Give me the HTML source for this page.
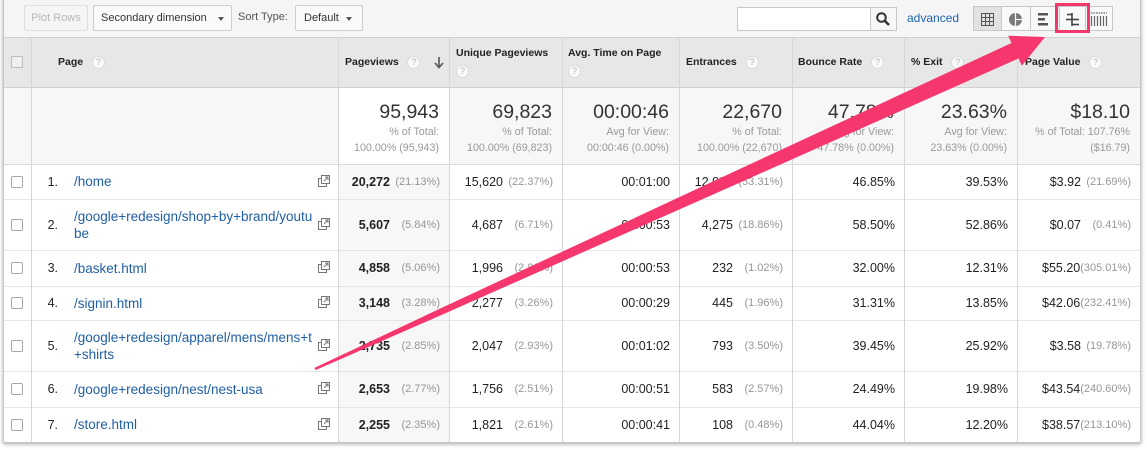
<!DOCTYPE html>
<html><head><meta charset="utf-8">
<style>
*{margin:0;padding:0;box-sizing:border-box}
body{width:1147px;height:450px;overflow:hidden;background:#fff;position:relative;font-family:"Liberation Sans",Arial,sans-serif;color:#222}
.abs{position:absolute}
.frame{position:absolute;left:3px;top:-3px;width:1138px;height:446px;border:1px solid #c4c4c4;background:#f5f5f5;box-shadow:0 1px 4px rgba(0,0,0,.35)}
.btn{position:absolute;top:5px;height:26px;border:1px solid #cfcfcf;border-radius:2px;background:#fafafa;font-size:11px;color:#333;display:flex;align-items:center}
.tri{position:absolute;width:0;height:0;border-left:3.5px solid transparent;border-right:3.5px solid transparent;border-top:4px solid #555}
.hl{position:absolute;background:#d6d6d6}
.row{position:absolute;left:0;width:1147px}
.c{position:absolute;top:0;height:100%;display:flex;align-items:center;justify-content:flex-end;padding-right:9px;font-size:12.5px;color:#222;white-space:nowrap}
.p{display:inline-block;min-width:50px;text-align:right;font-size:11px;color:#969696}
.pv{left:338px;width:111px;background:#f7f7f7}
.pv b{font-weight:bold}
.up{left:449px;width:113px}
.at{left:562px;width:117px}
.en{left:679px;width:113px}
.br{left:792px;width:112px}
.ex{left:904px;width:113px}
.va{left:1017px;width:123px}
.cb{position:absolute;left:11px;top:50%;margin-top:-6px;width:12px;height:12px;border:1px solid #a8a8a8;border-radius:2px;background:#fff}
.num{position:absolute;left:31px;width:27px;top:0;height:100%;display:flex;align-items:center;justify-content:flex-end;font-size:12.5px;color:#222}
.lnk{position:absolute;left:74px;top:0;height:100%;display:flex;align-items:center;font-size:13.5px;color:#1f5fa6;line-height:17px;white-space:nowrap}
.ext{position:absolute;left:318px;top:50%;margin-top:-7px}
.hd{position:absolute;top:37px;height:50px;display:flex;align-items:center;padding-left:7px;font-size:10.5px;font-weight:bold;color:#222;line-height:18px}
.hd > div{white-space:nowrap}
.q{display:inline-block;width:13px;height:13px;border-radius:50%;background:#f9f9f9;border:1px solid #dcdcdc;color:#b5b5b5;font-size:9px;font-weight:normal;text-align:center;line-height:11px;vertical-align:middle}
.tot{position:absolute;top:87px;height:77px;padding-top:13px;padding-right:10px;text-align:right;background:#f7f7f7}
.tot .big{font-size:19.5px;line-height:24px;color:#333}
.tot .sm{font-size:10.7px;line-height:16px;color:#999;white-space:nowrap}
</style></head><body>

<div class="frame"></div>

<!-- toolbar -->
<div class="btn" style="left:24px;width:64px;background:#f5f5f5;border-color:#dedede;color:#b8b8b8;justify-content:center">Plot Rows</div>
<div class="btn" style="left:93px;width:139px;padding-left:7px">Secondary dimension<div class="tri" style="left:124px;top:11px"></div></div>
<div class="abs" style="left:238px;top:11px;font-size:11px;color:#555">Sort Type:</div>
<div class="btn" style="left:295px;width:68px;padding-left:8px">Default<div class="tri" style="left:50px;top:11px"></div></div>

<div class="abs" style="left:737px;top:7px;width:134px;height:24px;border:1px solid #c8c8c8;background:#fff"></div>
<div class="abs" style="left:870px;top:7px;width:27px;height:24px;border:1px solid #c8c8c8;background:#f7f7f7"></div>
<svg class="abs" style="left:875px;top:11px" width="16" height="16"><circle cx="6.5" cy="6.5" r="4.3" fill="none" stroke="#333" stroke-width="2"/><line x1="9.5" y1="9.5" x2="14" y2="14" stroke="#333" stroke-width="2.6"/></svg>
<div class="abs" style="left:907px;top:11px;font-size:12px;color:#1c62b2">advanced</div>

<div class="abs" style="left:973px;top:6px;width:140px;height:25px;border:1px solid #c8c8c8;background:#f9f9f9"></div>
<div class="abs" style="left:974px;top:7px;width:27px;height:23px;background:#e2e2e2"></div>
<div class="abs" style="left:1001px;top:6px;width:1px;height:25px;background:#c8c8c8"></div>
<div class="abs" style="left:1030px;top:6px;width:1px;height:25px;background:#c8c8c8"></div>
<div class="abs" style="left:1059px;top:6px;width:1px;height:25px;background:#c8c8c8"></div>
<div class="abs" style="left:1085px;top:6px;width:1px;height:25px;background:#c8c8c8"></div>
<svg class="abs" style="left:0;top:0" width="1147" height="40">
 <g stroke="#555" stroke-width="1" fill="none">
  <rect x="981.5" y="13.5" width="12" height="12"/>
  <line x1="985.5" y1="13.5" x2="985.5" y2="25.5"/><line x1="989.5" y1="13.5" x2="989.5" y2="25.5"/>
  <line x1="981.5" y1="17.5" x2="993.5" y2="17.5"/><line x1="981.5" y1="21.5" x2="993.5" y2="21.5"/>
 </g>
 <circle cx="1015.5" cy="19.5" r="6.5" fill="#7a7a7a"/>
 <line x1="1015.5" y1="13" x2="1015.5" y2="26" stroke="#f9f9f9" stroke-width="1.2"/>
 <line x1="1015.5" y1="19.5" x2="1022" y2="19.5" stroke="#f9f9f9" stroke-width="1.2"/>
 <rect x="1038" y="13" width="10" height="2.5" fill="#555"/>
 <rect x="1038" y="18" width="7" height="2.5" fill="#555"/>
 <rect x="1038" y="23" width="10" height="2.5" fill="#555"/>
 <g stroke="#444" stroke-width="1.6">
  <line x1="1072" y1="13" x2="1072" y2="26"/>
  <line x1="1067" y1="14.5" x2="1072" y2="14.5"/>
  <line x1="1066" y1="19.5" x2="1079" y2="19.5"/>
  <line x1="1072" y1="24.5" x2="1079" y2="24.5"/>
 </g>
 <g stroke="#666" stroke-width="1.2">
  <line x1="1091" y1="13" x2="1107" y2="13" stroke-dasharray="1.5 1"/>
  <line x1="1091.5" y1="16" x2="1091.5" y2="26"/><line x1="1094.5" y1="16" x2="1094.5" y2="26"/>
  <line x1="1097.5" y1="16" x2="1097.5" y2="26"/><line x1="1100.5" y1="16" x2="1100.5" y2="26"/>
  <line x1="1103.5" y1="16" x2="1103.5" y2="26"/><line x1="1106.5" y1="16" x2="1106.5" y2="26"/>
 </g>
</svg>

<!-- header -->
<div class="abs" style="left:4px;top:37px;width:1136px;height:50px;background:#e7e7e7"></div>
<div class="abs" style="left:11px;top:56px;width:12px;height:12px;border:1px solid #bdbdbd;background:#efefef"></div>
<div class="hd" style="left:51px;width:287px"><div>Page&nbsp;&nbsp;&nbsp;<span class="q">?</span></div></div>
<div class="hd" style="left:338px;width:111px"><div>Pageviews&nbsp;&nbsp;&nbsp;<span class="q">?</span></div></div>
<svg class="abs" style="left:434px;top:56px" width="10" height="13"><line x1="5" y1="1" x2="5" y2="11" stroke="#555" stroke-width="1.6"/><polyline points="1,7 5,11.5 9,7" fill="none" stroke="#555" stroke-width="1.6"/></svg>
<div class="hd" style="left:449px;width:113px"><div>Unique Pageviews<br><span class="q">?</span></div></div>
<div class="hd" style="left:562px;width:117px;padding-left:6px"><div>Avg. Time on Page<br><span class="q">?</span></div></div>
<div class="hd" style="left:679px;width:113px"><div>Entrances&nbsp;&nbsp;&nbsp;<span class="q">?</span></div></div>
<div class="hd" style="left:792px;width:112px;padding-left:6px"><div>Bounce Rate&nbsp;&nbsp;&nbsp;<span class="q">?</span></div></div>
<div class="hd" style="left:904px;width:113px"><div>% Exit&nbsp;&nbsp;&nbsp;<span class="q">?</span></div></div>
<div class="hd" style="left:1017px;width:123px;padding-left:8px"><div>Page Value&nbsp;&nbsp;&nbsp;<span class="q">?</span></div></div>

<!-- totals -->
<div class="abs" style="left:4px;top:87px;width:334px;height:77px;background:#f7f7f7"></div>
<div class="tot" style="left:338px;width:111px;background:#fff"><div class="big">95,943</div><div class="sm">% of Total:</div><div class="sm">100.00% (95,943)</div></div>
<div class="tot" style="left:449px;width:113px"><div class="big">69,823</div><div class="sm">% of Total:</div><div class="sm">100.00% (69,823)</div></div>
<div class="tot" style="left:562px;width:117px"><div class="big">00:00:46</div><div class="sm">Avg for View:</div><div class="sm">00:00:46 (0.00%)</div></div>
<div class="tot" style="left:679px;width:113px"><div class="big">22,670</div><div class="sm">% of Total:</div><div class="sm">100.00% (22,670)</div></div>
<div class="tot" style="left:792px;width:112px"><div class="big">47.78%</div><div class="sm">Avg for View:</div><div class="sm">47.78% (0.00%)</div></div>
<div class="tot" style="left:904px;width:113px"><div class="big">23.63%</div><div class="sm">Avg for View:</div><div class="sm">23.63% (0.00%)</div></div>
<div class="tot" style="left:1017px;width:123px"><div class="big">$18.10</div><div class="sm">% of Total: 107.76%</div><div class="sm">($16.79)</div></div>

<!-- data rows background -->
<div class="abs" style="left:4px;top:164px;width:1136px;height:278px;background:#fff"></div>

<svg width="0" height="0" style="position:absolute"><defs>
<symbol id="ei" viewBox="0 0 12 12"><rect x="0.5" y="3.5" width="8" height="8" fill="#fff" stroke="#777"/><rect x="3.5" y="0.5" width="8" height="8" fill="#fff" stroke="#777"/><path d="M6 6 L10 2 M7 2 H10 V5" stroke="#777" fill="none"/></symbol>
</defs></svg>

<div class="row" style="top:164px;height:35px">
 <div class="cb"></div><div class="num">1.</div><div class="lnk">/home</div>
 <svg class="ext" width="12" height="12"><use href="#ei"/></svg>
 <div class="c pv"><b>20,272</b><span class="p">(21.13%)</span></div>
 <div class="c up">15,620<span class="p">(22.37%)</span></div>
 <div class="c at">00:01:00</div>
 <div class="c en">12,085<span class="p">(53.31%)</span></div>
 <div class="c br">46.85%</div>
 <div class="c ex">39.53%</div>
 <div class="c va">$3.92<span class="p">(21.69%)</span></div>
</div>
<div class="row" style="top:199px;height:51px">
 <div class="cb"></div><div class="num">2.</div><div class="lnk">/google+redesign/shop+by+brand/youtu<br>be</div>
 <svg class="ext" width="12" height="12"><use href="#ei"/></svg>
 <div class="c pv"><b>5,607</b><span class="p">(5.84%)</span></div>
 <div class="c up">4,687<span class="p">(6.71%)</span></div>
 <div class="c at">00:00:53</div>
 <div class="c en">4,275<span class="p">(18.86%)</span></div>
 <div class="c br">58.50%</div>
 <div class="c ex">52.86%</div>
 <div class="c va">$0.07<span class="p">(0.41%)</span></div>
</div>
<div class="row" style="top:250px;height:36px">
 <div class="cb"></div><div class="num">3.</div><div class="lnk">/basket.html</div>
 <svg class="ext" width="12" height="12"><use href="#ei"/></svg>
 <div class="c pv"><b>4,858</b><span class="p">(5.06%)</span></div>
 <div class="c up">1,996<span class="p">(2.86%)</span></div>
 <div class="c at">00:00:53</div>
 <div class="c en">232<span class="p">(1.02%)</span></div>
 <div class="c br">32.00%</div>
 <div class="c ex">12.31%</div>
 <div class="c va">$55.20<span class="p">(305.01%)</span></div>
</div>
<div class="row" style="top:286px;height:34px">
 <div class="cb"></div><div class="num">4.</div><div class="lnk">/signin.html</div>
 <svg class="ext" width="12" height="12"><use href="#ei"/></svg>
 <div class="c pv"><b>3,148</b><span class="p">(3.28%)</span></div>
 <div class="c up">2,277<span class="p">(3.26%)</span></div>
 <div class="c at">00:00:29</div>
 <div class="c en">445<span class="p">(1.96%)</span></div>
 <div class="c br">31.31%</div>
 <div class="c ex">13.85%</div>
 <div class="c va">$42.06<span class="p">(232.41%)</span></div>
</div>
<div class="row" style="top:320px;height:51px">
 <div class="cb"></div><div class="num">5.</div><div class="lnk">/google+redesign/apparel/mens/mens+t<br>+shirts</div>
 <svg class="ext" width="12" height="12"><use href="#ei"/></svg>
 <div class="c pv"><b>2,735</b><span class="p">(2.85%)</span></div>
 <div class="c up">2,047<span class="p">(2.93%)</span></div>
 <div class="c at">00:01:02</div>
 <div class="c en">793<span class="p">(3.50%)</span></div>
 <div class="c br">39.45%</div>
 <div class="c ex">25.92%</div>
 <div class="c va">$3.58<span class="p">(19.78%)</span></div>
</div>
<div class="row" style="top:371px;height:36px">
 <div class="cb"></div><div class="num">6.</div><div class="lnk">/google+redesign/nest/nest-usa</div>
 <svg class="ext" width="12" height="12"><use href="#ei"/></svg>
 <div class="c pv"><b>2,653</b><span class="p">(2.77%)</span></div>
 <div class="c up">1,756<span class="p">(2.51%)</span></div>
 <div class="c at">00:00:51</div>
 <div class="c en">583<span class="p">(2.57%)</span></div>
 <div class="c br">24.49%</div>
 <div class="c ex">19.98%</div>
 <div class="c va">$43.54<span class="p">(240.60%)</span></div>
</div>
<div class="row" style="top:407px;height:35px">
 <div class="cb"></div><div class="num">7.</div><div class="lnk">/store.html</div>
 <svg class="ext" width="12" height="12"><use href="#ei"/></svg>
 <div class="c pv"><b>2,255</b><span class="p">(2.35%)</span></div>
 <div class="c up">1,821<span class="p">(2.61%)</span></div>
 <div class="c at">00:00:41</div>
 <div class="c en">108<span class="p">(0.48%)</span></div>
 <div class="c br">44.04%</div>
 <div class="c ex">12.20%</div>
 <div class="c va">$38.57<span class="p">(213.10%)</span></div>
</div>

<!-- grid lines -->
<div class="hl" style="left:4px;top:37px;width:1136px;height:1px;background:#d2d2d2"></div>
<div class="hl" style="left:4px;top:87px;width:1136px;height:1px;background:#d2d2d2"></div>
<div class="hl" style="left:4px;top:164px;width:1136px;height:1px;background:#dcdcdc"></div>
<div class="hl" style="left:4px;top:199px;width:1136px;height:1px;background:#e6e6e6"></div>
<div class="hl" style="left:4px;top:250px;width:1136px;height:1px;background:#e6e6e6"></div>
<div class="hl" style="left:4px;top:286px;width:1136px;height:1px;background:#e6e6e6"></div>
<div class="hl" style="left:4px;top:320px;width:1136px;height:1px;background:#e6e6e6"></div>
<div class="hl" style="left:4px;top:371px;width:1136px;height:1px;background:#e6e6e6"></div>
<div class="hl" style="left:4px;top:407px;width:1136px;height:1px;background:#e6e6e6"></div>
<div class="hl" style="left:31px;top:37px;width:1px;height:405px"></div>
<div class="hl" style="left:338px;top:37px;width:1px;height:405px"></div>
<div class="hl" style="left:449px;top:37px;width:1px;height:405px"></div>
<div class="hl" style="left:562px;top:37px;width:1px;height:405px"></div>
<div class="hl" style="left:679px;top:37px;width:1px;height:405px"></div>
<div class="hl" style="left:792px;top:37px;width:1px;height:405px"></div>
<div class="hl" style="left:904px;top:37px;width:1px;height:405px"></div>
<div class="hl" style="left:1017px;top:37px;width:1px;height:405px"></div>

<!-- annotation -->
<div class="abs" style="left:1055px;top:3px;width:35px;height:30px;border:3px solid #f2376d"></div>
<svg class="abs" style="left:0;top:0" width="1147" height="450">
 <polygon fill="#f5376e" points="314.5,367.9 439.7,308.8 600,234.1 732.4,172.4 1011.5,43 1008.2,35.7 1045,37 1021.8,65.7 1018.5,58.4 737.6,183.6 604,242.9 442.3,314.6 315.5,370.1"/>
</svg>

</body></html>
